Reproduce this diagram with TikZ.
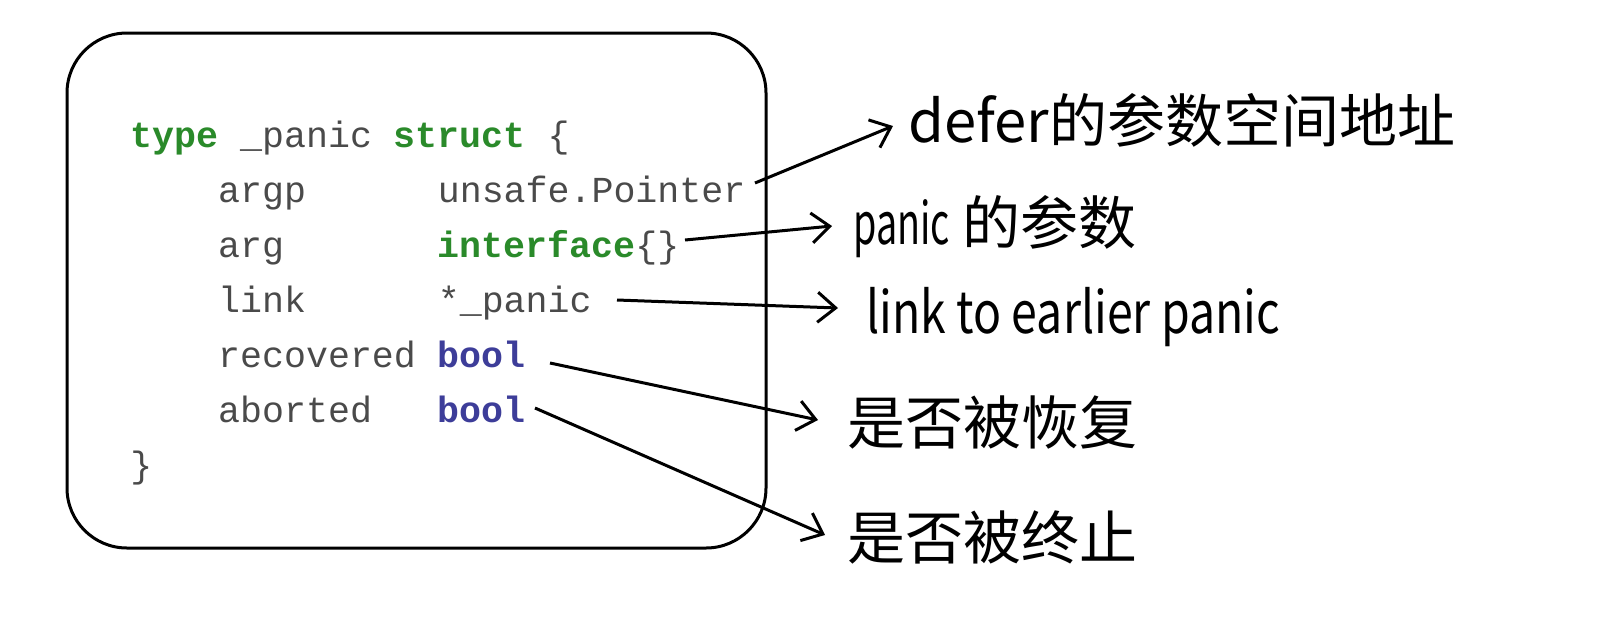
\documentclass[tikz,border=0pt]{standalone}
\usepackage{fontspec}
\setmonofont{Liberation Mono}
\newfontfamily\cjk{Noto Sans CJK SC}
\usetikzlibrary{arrows.meta}
\definecolor{kwgreen}{HTML}{2A8A2A}
\definecolor{kwblue}{HTML}{3D3D99}
\definecolor{codegray}{HTML}{4A4A4A}
\begin{document}
\begin{tikzpicture}[x=0.5pt,y=-0.5pt,
  code/.style={inner sep=0pt,anchor=base west,font=\fontsize{18.3pt}{20pt}\ttfamily,text=codegray},
  kw/.style={code,font=\fontsize{18.3pt}{20pt}\ttfamily\bfseries,text=kwgreen},
  ty/.style={code,font=\fontsize{18.3pt}{20pt}\ttfamily\bfseries,text=kwblue},
  lbl/.style={inner sep=0pt,anchor=base west,font=\fontsize{29pt}{32pt}\cjk,text=black},
  arr/.style={line width=1.5pt,-{Straight Barb[length=9pt,width=15pt,line width=1.5pt]}}]
\useasboundingbox (0,0) rectangle (1602,638);
\fill[white] (0,0) rectangle (1602,638);
\draw[line width=1.5pt,rounded corners=30pt] (67,33) rectangle (766,548);
% code, columns of 21.96px starting at x=130
\node[kw]   (ktype)   at (130,147) {type};
\node[code] (cpanic)  at (130+5*21.96,147) {\_panic};
\node[kw]   (kstruct) at (130+12*21.96,147) {struct};
\node[code] (cbrace)  at (130+19*21.96,147) {\{};
\node[code] (fargp)   at (130+4*21.96,202) {argp};
\node[code] (targp)   at (130+14*21.96,202) {unsafe.Pointer};
\node[code] (farg)    at (130+4*21.96,257) {arg};
\node[kw]   (targ)    at (130+14*21.96,257) {interface};
\node[code] (targb)   at (130+23*21.96,257) {\{\}};
\node[code] (flink)   at (130+4*21.96,312) {link};
\node[code] (tlink)   at (130+14*21.96,312) {*\_panic};
\node[code] (frec)    at (130+4*21.96,367) {recovered};
\node[ty]   (trec)    at (130+14*21.96,367) {bool};
\node[code] (fab)     at (130+4*21.96,422) {aborted};
\node[ty]   (tab)     at (130+14*21.96,422) {bool};
\node[code] (cend)    at (130,477) {\}};
% labels
\node[lbl] (l1) at (908,142) {defer的参数空间地址};
\node[lbl] (l2) at (853,244) {\scalebox{0.65}[1]{panic} 的参数};
\node[lbl] (l3) at (866,333) {\scalebox{0.8}[1]{link to earlier panic}};
\node[lbl] (l4) at (847,444) {是否被恢复};
\node[lbl] (l5) at (847,559) {是否被终止};
% connector end points
\coordinate (s1) at (755,183); \coordinate (e1) at (893,126);
\coordinate (s2) at (685,240); \coordinate (e2) at (832,226);
\coordinate (s3) at (617,300); \coordinate (e3) at (838,308);
\coordinate (s4) at (550,363); \coordinate (e4) at (818,420);
\coordinate (s5) at (535,408); \coordinate (e5) at (825,535);
\draw[arr] (s1) -- (e1);
\draw[arr] (s2) -- (e2);
\draw[arr] (s3) -- (e3);
\draw[arr] (s4) -- (e4);
\draw[arr] (s5) -- (e5);
\end{tikzpicture}
\end{document}
